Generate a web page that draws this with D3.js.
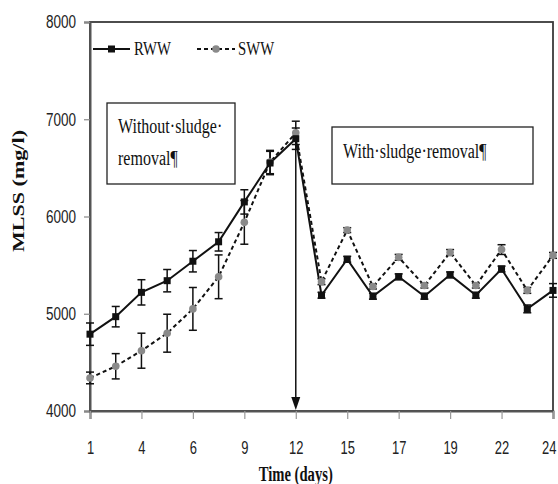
<!DOCTYPE html>
<html>
<head>
<meta charset="utf-8">
<script src="https://cdn.jsdelivr.net/npm/d3@7"></script>
<style>
  html, body { margin: 0; padding: 0; background: #fff; }
  svg { display: block; }
</style>
</head>
<body>
<svg id="chart" width="558" height="484"></svg>
<script>
// Sampling days (category axis, every other day labelled)
const days = [1, 3, 4, 5, 6, 8, 9, 10, 12, 14, 15, 16, 17, 18, 19, 21, 22, 23, 24];
const tickDays = [1, 4, 6, 9, 12, 15, 17, 19, 22, 24];
const yTicks = [4000, 5000, 6000, 7000, 8000];

// MLSS (mg/l) for the two reactors, with standard deviations
const rww    = [4790, 4970, 5220, 5340, 5540, 5740, 6150, 6550, 6800, 5190, 5560, 5180, 5380, 5180, 5400, 5190, 5460, 5050, 5240];
const rwwErr = [115, 105, 130, 115, 110, 95, 125, 120, 110, 30, 30, 30, 30, 30, 30, 30, 30, 40, 70];
const sww    = [4340, 4460, 4620, 4800, 5050, 5380, 5940, 6560, 6860, 5330, 5860, 5280, 5580, 5290, 5630, 5290, 5660, 5240, 5600];
const swwErr = [60, 130, 180, 195, 220, 225, 225, 120, 120, 30, 25, 25, 30, 25, 30, 25, 50, 30, 30];

const removalDay = 12;

const margin = { top: 22, right: 5, bottom: 73, left: 90 };
const W = 558, H = 484;
const svg = d3.select("#chart");

const x = d3.scalePoint().domain(days).range([margin.left, W - margin.right]).padding(0);
const y = d3.scaleLinear().domain([4000, 8000]).range([H - margin.bottom, margin.top]);

const serif = "'Liberation Serif', 'Times New Roman', serif";
const sans = "'Liberation Sans', Arial, sans-serif";

// compress glyphs horizontally to the narrow look of the typeface
function squeeze(sel, f) {
  sel.each(function () {
    const w = this.getComputedTextLength();
    d3.select(this).attr("textLength", w * f).attr("lengthAdjust", "spacingAndGlyphs");
  });
}

// plot frame
svg.append("rect")
  .attr("x", margin.left).attr("y", margin.top)
  .attr("width", W - margin.right - margin.left)
  .attr("height", H - margin.bottom - margin.top)
  .attr("fill", "none").attr("stroke", "#3a3a3a").attr("stroke-width", 1.8);

// y axis
const yAxis = svg.append("g")
  .attr("transform", `translate(${margin.left},0)`)
  .call(d3.axisLeft(y).tickValues(yTicks).tickFormat(d3.format("d")).tickSize(6).tickPadding(8));
yAxis.select(".domain").attr("stroke", "#555").attr("stroke-width", 2);
yAxis.selectAll(".tick line").attr("stroke", "#888").attr("stroke-width", 1.2);
yAxis.selectAll("text").attr("font-family", sans).attr("font-size", 18).attr("fill", "#222");
squeeze(yAxis.selectAll("text"), 0.75);

// x axis: labels narrowed with a horizontal scale about their own anchor
const xSqueeze = 0.72;
const xAxis = svg.append("g")
  .attr("transform", `translate(0,${H - margin.bottom})`)
  .call(d3.axisBottom(x).tickValues(tickDays).tickSize(8).tickPadding(22));
xAxis.select(".domain").attr("stroke", "#555").attr("stroke-width", 2);
xAxis.selectAll(".tick line").attr("stroke", "#999").attr("stroke-width", 1.2);
xAxis.selectAll("text")
  .attr("font-family", sans).attr("font-size", 18).attr("fill", "#222")
  .attr("transform", `scale(${xSqueeze},1)`);
// keep the last label inside the page
const lastDay = tickDays[tickDays.length - 1];
xAxis.selectAll(".tick").filter(d => d === lastDay)
  .select("text").attr("text-anchor", "end").attr("x", (W - 2 - x(lastDay)) / xSqueeze);

// axis titles
const xt = svg.append("text")
  .attr("x", x(removalDay)).attr("y", 481)
  .attr("text-anchor", "middle")
  .attr("font-family", serif).attr("font-weight", "bold").attr("font-size", 20)
  .attr("fill", "#111")
  .text("Time (days)");
squeeze(xt, 0.73);

svg.append("text")
  .attr("transform", "translate(24,191) rotate(-90)")
  .attr("text-anchor", "middle")
  .attr("font-family", serif).attr("font-weight", "bold").attr("font-size", 17)
  .attr("fill", "#111")
  .attr("textLength", 122).attr("lengthAdjust", "spacingAndGlyphs")
  .text("MLSS (mg/l)");

// arrow marking the sludge removal day
const ax = x(removalDay);
svg.append("line")
  .attr("x1", ax).attr("x2", ax)
  .attr("y1", y(sww[days.indexOf(removalDay)])).attr("y2", H - margin.bottom - 12)
  .attr("stroke", "#111").attr("stroke-width", 1.5);
svg.append("path")
  .attr("d", `M${ax - 4.5},${H - margin.bottom - 14} L${ax + 4.5},${H - margin.bottom - 14} L${ax},${H - margin.bottom - 1} Z`)
  .attr("fill", "#111");

// text boxes (Word formatting marks kept as drawn)
function noteBox(x0, y0, w, h, lines) {
  const g = svg.append("g");
  g.append("rect").attr("x", x0).attr("y", y0).attr("width", w).attr("height", h)
    .attr("fill", "#fff").attr("stroke", "#222").attr("stroke-width", 1.3);
  lines.forEach(l => {
    const t = g.append("text")
      .attr("x", l.x).attr("y", l.y)
      .attr("font-family", serif).attr("font-size", 20).attr("fill", "#111")
      .text(l.t);
    squeeze(t, 0.8);
  });
}
noteBox(107, 103, 128, 81, [
  { x: 118, y: 133, t: "Without·sludge·" },
  { x: 118, y: 165, t: "removal¶" }
]);
noteBox(332, 127, 201, 57, [
  { x: 343, y: 158, t: "With·sludge·removal¶" }
]);

// series
const series = [
  { name: "RWW", vals: rww, err: rwwErr, dash: null, marker: "square", fill: "#111" },
  { name: "SWW", vals: sww, err: swwErr, dash: "4,3", marker: "circle", fill: "#8a8a8a" }
];

const line = d3.line().x((d, i) => x(days[i])).y(d => y(d));

// error bars
series.forEach(s => {
  const g = svg.append("g").attr("stroke", "#111").attr("stroke-width", 1.5);
  s.vals.forEach((v, i) => {
    const cx = x(days[i]);
    const y1 = y(v + s.err[i]), y2 = y(v - s.err[i]);
    g.append("line").attr("x1", cx).attr("x2", cx).attr("y1", y1).attr("y2", y2);
    g.append("line").attr("x1", cx - 4).attr("x2", cx + 4).attr("y1", y1).attr("y2", y1);
    g.append("line").attr("x1", cx - 4).attr("x2", cx + 4).attr("y1", y2).attr("y2", y2);
  });
});

// lines
series.slice().reverse().forEach(s => {
  svg.append("path")
    .datum(s.vals)
    .attr("d", line)
    .attr("fill", "none")
    .attr("stroke", "#111")
    .attr("stroke-width", 2)
    .attr("stroke-dasharray", s.dash);
});

// markers
function drawMarker(g, type, cx, cy, fill) {
  if (type === "square") {
    g.append("rect").attr("x", cx - 3.5).attr("y", cy - 3.5).attr("width", 7).attr("height", 7).attr("fill", fill);
  } else {
    g.append("circle").attr("cx", cx).attr("cy", cy).attr("r", 3.8).attr("fill", fill);
  }
}
series.slice().reverse().forEach(s => {
  const g = svg.append("g");
  s.vals.forEach((v, i) => drawMarker(g, s.marker, x(days[i]), y(v), s.fill));
});

// legend
const legend = svg.append("g");
const legendItems = [
  { s: series[0], x0: 93, x1: 130, tx: 134 },
  { s: series[1], x0: 197, x1: 235, tx: 238 }
];
legendItems.forEach(it => {
  const ly = 49;
  legend.append("line")
    .attr("x1", it.x0).attr("x2", it.x1).attr("y1", ly).attr("y2", ly)
    .attr("stroke", "#111").attr("stroke-width", 2)
    .attr("stroke-dasharray", it.s.dash);
  drawMarker(legend, it.s.marker, (it.x0 + it.x1) / 2, ly, it.s.fill);
  const t = legend.append("text")
    .attr("x", it.tx).attr("y", 55)
    .attr("font-family", serif).attr("font-size", 18).attr("fill", "#111")
    .text(it.s.name);
  squeeze(t, 0.82);
});
</script>
</body>
</html>
